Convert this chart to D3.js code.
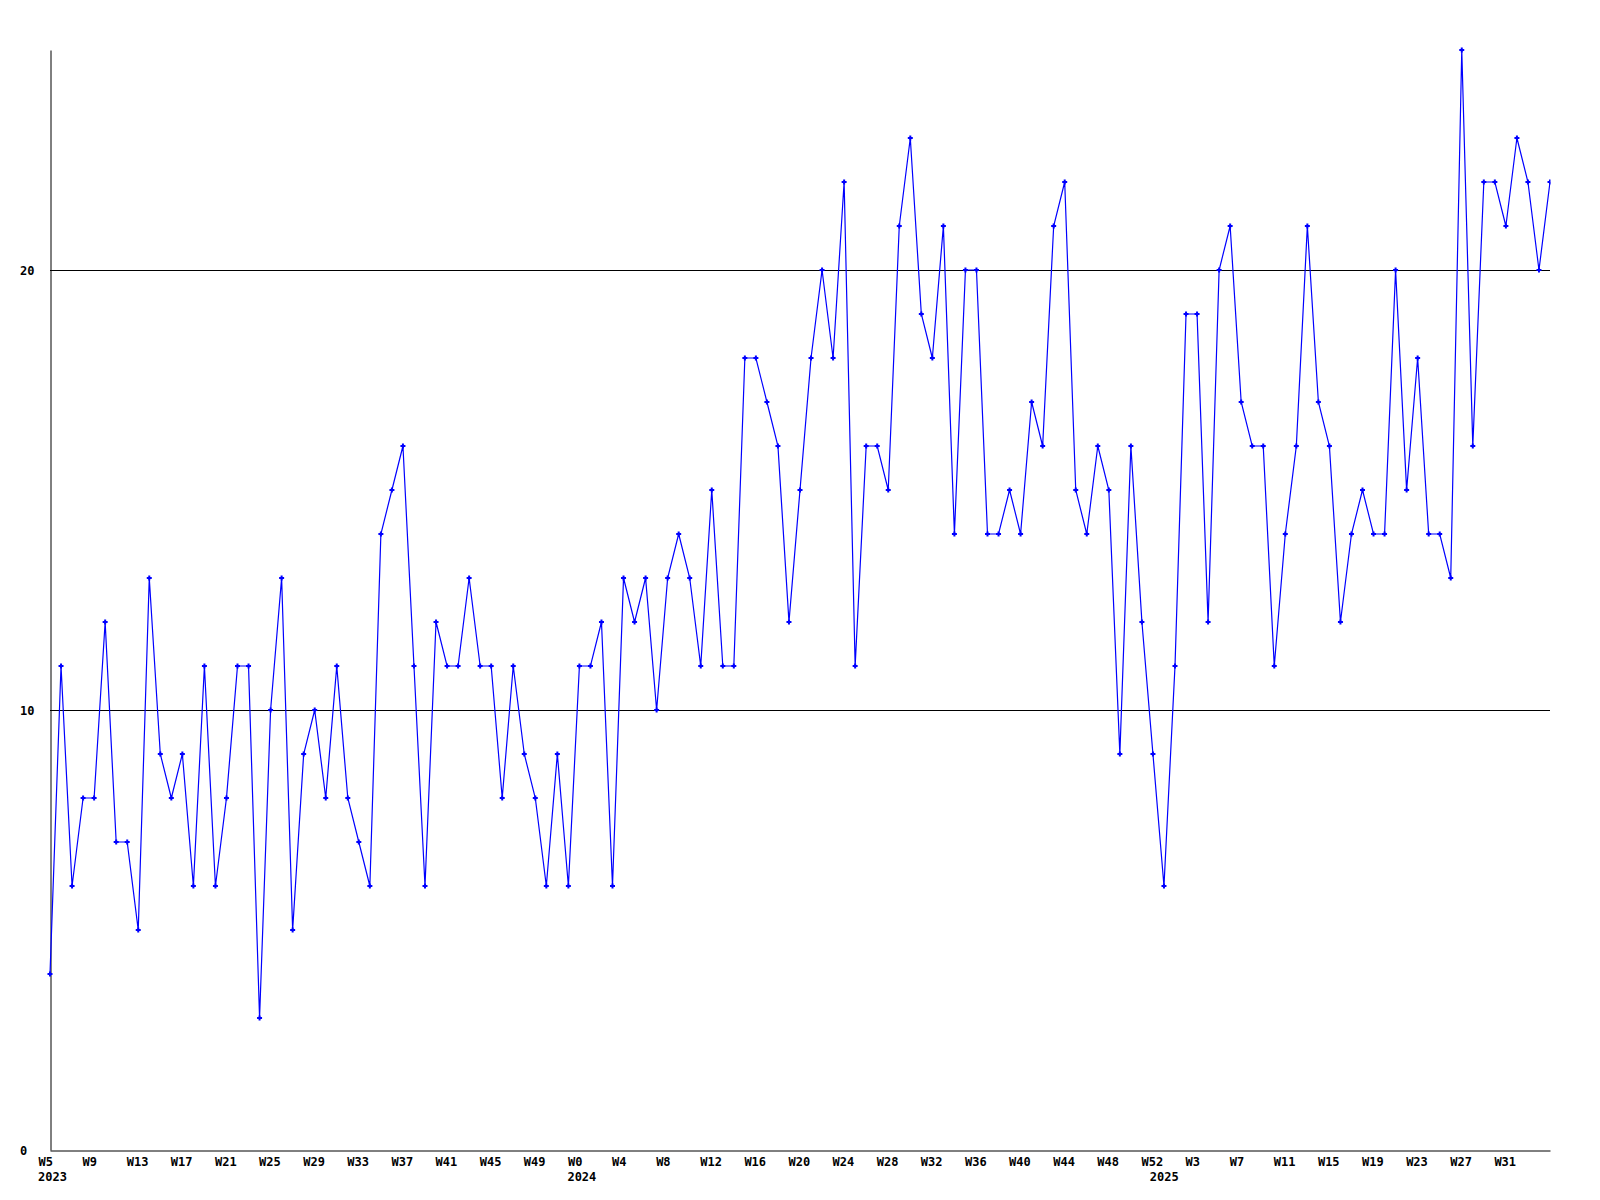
<!DOCTYPE html>
<html><head><meta charset="utf-8">
<script src="https://cdn.jsdelivr.net/npm/d3@7"></script>
<style>
body{margin:0;background:#fff}
text{font-family:"DejaVu Sans Mono",monospace;font-weight:bold;font-size:12px;fill:#000}
</style>
</head><body>
<svg id="chart" width="1600" height="1200"></svg>
<script>
// Weekly values, 2023 W5 .. 2025 W35
const values = [
  4,11,6,8,8,12,7,7,5,13,9,8,9,6,11,6,8,11,11,3,
  10,13,5,9,10,8,11,8,7,6,14,15,16,11,6,12,11,11,13,11,
  11,8,11,9,8,6,9,6,11,11,12,6,13,12,13,10,13,14,13,11,
  15,11,11,18,18,17,16,12,15,18,20,18,22,11,16,16,15,21,23,19,
  18,21,14,20,20,14,14,15,14,17,16,21,22,15,14,16,15,9,16,12,
  9,6,11,19,19,12,20,21,17,16,16,11,14,16,21,17,16,12,14,15,
  14,14,20,15,18,14,14,13,25,16,22,22,21,23,22,20,22
];
// x tick labels, one every 4 weeks starting at the first week
const xTickLabels = ["W5","W9","W13","W17","W21","W25","W29","W33","W37","W41","W45","W49",
  "W0","W4","W8","W12","W16","W20","W24","W28","W32","W36","W40","W44","W48","W52",
  "W3","W7","W11","W15","W19","W23","W27","W31"];
const tickStep = 4;
const yearLabels = ["2023","2024","2025"];
const yearWeekIndex = [0, 48, 100.8];
const yTickValues = [0, 10, 20];
const gridValues = [10, 20];

const svg = d3.select("#chart");
const mLeft = 50, mRight = 1550, mTop = 50, mBottom = 1150;
const x = d3.scaleLinear().domain([0, values.length - 1]).range([mLeft, mRight]);
const y = d3.scaleLinear().domain([0, 25]).range([mBottom, mTop]);

// gridlines
svg.append("g").selectAll("line").data(gridValues).join("line")
  .attr("x1", mLeft).attr("x2", mRight)
  .attr("y1", d => Math.round(y(d)) + 0.5).attr("y2", d => Math.round(y(d)) + 0.5)
  .attr("stroke", "#000").attr("stroke-width", 1);

// x axis
const xAxis = d3.axisBottom(x)
  .tickValues(xTickLabels.map((_, i) => i * tickStep))
  .tickFormat((d, i) => xTickLabels[i])
  .tickSize(0).tickSizeOuter(0);
const gx = svg.append("g").attr("transform", `translate(0,${mBottom + 0.5})`).call(xAxis);
gx.select(".domain").attr("stroke", "#000").attr("stroke-width", 1);
gx.selectAll(".tick text")
  .attr("text-anchor", "start").attr("x", -12).attr("y", 15).attr("dy", null)
  .style("font-family", '"DejaVu Sans Mono",monospace').style("font-size", "12px").style("font-weight", "bold");

// year labels
svg.append("g").selectAll("text").data(yearLabels).join("text")
  .attr("x", (d, i) => x(yearWeekIndex[i]) - 12)
  .attr("y", mBottom + 31)
  .text(d => d);

// y axis
const yAxis = d3.axisLeft(y).tickValues(yTickValues).tickFormat(d3.format("d"))
  .tickSize(0).tickSizeOuter(0);
const gy = svg.append("g").attr("transform", `translate(${mLeft + 0.5},0)`).call(yAxis);
gy.select(".domain").attr("stroke", "#000").attr("stroke-width", 1);
gy.selectAll(".tick text")
  .attr("text-anchor", "start").attr("x", -30.5).attr("dy", "0.36em")
  .style("font-family", '"DejaVu Sans Mono",monospace').style("font-size", "12px").style("font-weight", "bold");

// clip for marks
svg.append("clipPath").attr("id", "plotclip")
  .append("rect").attr("x", mLeft - 4).attr("y", mTop - 4).attr("width", mRight - mLeft + 4.5).attr("height", mBottom - mTop + 8);

const plot = svg.append("g").attr("clip-path", "url(#plotclip)");
const line = d3.line().x((d, i) => x(i)).y(d => y(d));
plot.append("path").datum(values)
  .attr("d", line)
  .attr("fill", "none").attr("stroke", "#0000ff").attr("stroke-width", 1.2);

plot.append("g").selectAll("path").data(values).join("path")
  .attr("transform", (d, i) => `translate(${x(i)},${y(d)})`)
  .attr("d", "M-2.5,0H2.5M0,-2.5V2.5")
  .attr("stroke", "#0000ff").attr("stroke-width", 2).attr("fill", "none");
</script>
</body></html>
